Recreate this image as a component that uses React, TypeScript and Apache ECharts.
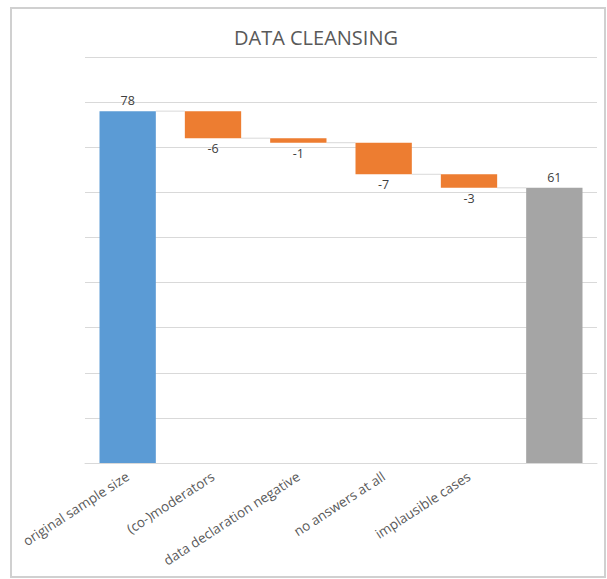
import React, { useEffect, useRef } from "react";
import * as echarts from "echarts";

const categories = [
  "original sample size",
  "(co-)moderators",
  "data declaration negative",
  "no answers at all",
  "implausible cases",
  "",
];
// first = start total, middle = changes, last = end total
const values = [78, -6, -1, -7, -3, 61];
const yMin = 0;
const yMax = 90;
const yInterval = 10;

const BLUE = "#5b9bd5";
const ORANGE = "#ed7d31";
const GRAY = "#a5a5a5";
const GRID = "#d9d9d9";
const FONT = "'Open Sans', 'Noto Sans', sans-serif";

export default function App() {
  const ref = useRef<HTMLDivElement>(null);

  useEffect(() => {
    if (!ref.current) return;
    const chart = echarts.init(ref.current, null, { renderer: "svg" });

    const n = values.length;
    const base: number[] = [];
    const vis: any[] = [];
    const levels: number[] = [];
    let running = 0;
    values.forEach((v, i) => {
      if (i === 0) {
        base.push(0);
        vis.push({ value: v, itemStyle: { color: BLUE }, label: { position: "top", formatter: String(v) } });
        running = v;
      } else if (i === n - 1) {
        base.push(0);
        vis.push({ value: v, itemStyle: { color: GRAY }, label: { position: "top", formatter: String(v) } });
      } else {
        const next = running + v;
        base.push(Math.min(running, next));
        vis.push({
          value: Math.abs(v),
          itemStyle: { color: ORANGE },
          label: { position: v < 0 ? "bottom" : "top", formatter: String(v) },
        });
        running = next;
      }
      levels.push(i === n - 1 ? v : running);
    });

    const connectorData = levels.slice(0, n - 1).map((lv, i) => [i, lv]);
    const gapRatio = 0.34;

    chart.setOption({
      animation: false,
      backgroundColor: "#ffffff",
      title: {
        text: "DATA CLEANSING",
        left: 311,
        top: 22,
        textAlign: "center",
        textStyle: { fontFamily: FONT, fontSize: 20, fontWeight: "normal", color: "#595959" },
      },
      graphic: [
        {
          type: "rect",
          shape: { x: 11, y: 8, width: 594, height: 569 },
          style: { fill: "none", stroke: "#d0d0d0", lineWidth: 2 },
          silent: true,
        },
      ],
      grid: { left: 85, right: 10, top: 57, bottom: 116, containLabel: false },
      xAxis: {
        type: "category",
        data: categories,
        axisTick: { show: false },
        axisLine: { lineStyle: { color: GRID, width: 1 } },
        axisLabel: {
          rotate: 33,
          interval: 0,
          margin: 12,
          color: "#595959",
          fontFamily: FONT,
          fontSize: 13.5,
        },
      },
      yAxis: {
        type: "value",
        min: yMin,
        max: yMax,
        interval: yInterval,
        axisLabel: { show: false },
        axisLine: { show: false },
        axisTick: { show: false },
        splitLine: { lineStyle: { color: GRID, width: 1 } },
      },
      series: [
        {
          type: "bar",
          stack: "w",
          data: base,
          itemStyle: { color: "transparent" },
          barCategoryGap: gapRatio * 100 + "%",
          silent: true,
        },
        {
          type: "bar",
          stack: "w",
          data: vis,
          barCategoryGap: gapRatio * 100 + "%",
          label: {
            show: true,
            color: "#404040",
            fontFamily: FONT,
            fontSize: 12.5,
            distance: 4,
          },
        },
        {
          type: "custom",
          data: connectorData,
          z: 1,
          renderItem: (params: any, api: any) => {
            const i = api.value(0);
            const lv = api.value(1);
            const p1 = api.coord([i, lv]);
            const p2 = api.coord([i + 1, lv]);
            const band = api.size([1, 0])[0];
            const half = (band * (1 - gapRatio)) / 2;
            return {
              type: "line",
              shape: { x1: p1[0] + half, y1: p1[1], x2: p2[0] - half, y2: p2[1] },
              style: { stroke: GRID, lineWidth: 1 },
            };
          },
        },
      ],
    });

    return () => chart.dispose();
  }, []);

  return (
    <div
      ref={ref}
      style={{ position: "fixed", left: 0, top: 0, width: 607, height: 579 }}
    />
  );
}
